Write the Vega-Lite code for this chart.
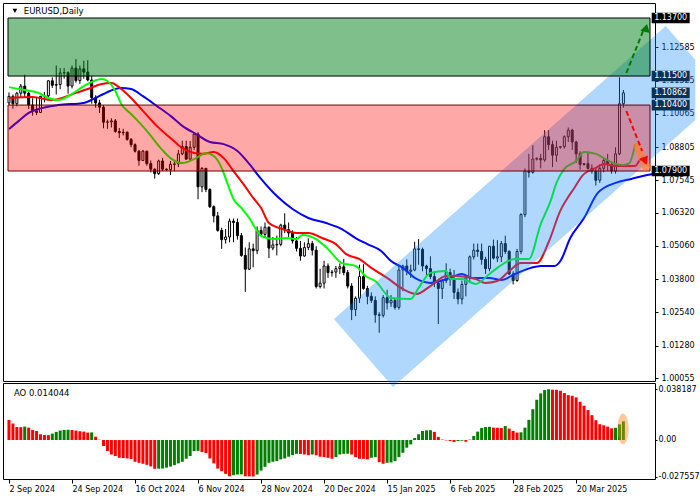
{
  "$schema": "https://vega.github.io/schema/vega-lite/v6.json",
  "padding": {"left": 2, "top": 2, "right": 0, "bottom": 0},
  "spacing": 2,
  "bounds": "flush",
  "background": "white",
  "config": {
    "view": {"stroke": "black", "strokeWidth": 1},
    "font": "DejaVu Sans",
    "text": {"font": "DejaVu Sans"},
    "axis": {"labelFont": "DejaVu Sans", "labelFontSize": 8, "labelColor": "black", "tickColor": "black", "domain": false, "grid": false, "labelOverlap": false, "labelFlush": false}
  },
  "datasets": {
    "candles": [
      {"i":0,"o":1.1048,"h":1.1088,"l":1.1040,"c":1.1073},{"i":1,"o":1.1073,"h":1.1080,"l":1.1026,"c":1.1045},{"i":2,"o":1.1045,"h":1.1090,"l":1.1035,"c":1.1085},{"i":3,"o":1.1085,"h":1.1120,"l":1.1070,"c":1.1112},{"i":4,"o":1.1112,"h":1.1155,"l":1.1070,"c":1.1085},
      {"i":5,"o":1.1085,"h":1.1090,"l":1.1025,"c":1.1040},{"i":6,"o":1.1040,"h":1.1066,"l":1.1000,"c":1.1018},{"i":7,"o":1.1018,"h":1.1070,"l":1.1002,"c":1.1012},{"i":8,"o":1.1012,"h":1.1075,"l":1.1010,"c":1.1073},{"i":9,"o":1.1073,"h":1.1090,"l":1.1050,"c":1.1075},
      {"i":10,"o":1.1075,"h":1.1135,"l":1.1070,"c":1.1132},{"i":11,"o":1.1132,"h":1.1145,"l":1.1105,"c":1.1115},{"i":12,"o":1.1115,"h":1.1190,"l":1.1080,"c":1.1118},{"i":13,"o":1.1118,"h":1.1180,"l":1.1100,"c":1.1162},{"i":14,"o":1.1162,"h":1.1180,"l":1.1140,"c":1.1163},
      {"i":15,"o":1.1163,"h":1.1168,"l":1.1083,"c":1.1112},{"i":16,"o":1.1112,"h":1.1190,"l":1.1103,"c":1.1180},{"i":17,"o":1.1180,"h":1.1214,"l":1.1125,"c":1.1133},{"i":18,"o":1.1133,"h":1.1190,"l":1.1120,"c":1.1177},{"i":19,"o":1.1177,"h":1.1208,"l":1.1140,"c":1.1165},
      {"i":20,"o":1.1165,"h":1.1210,"l":1.1130,"c":1.1135},{"i":21,"o":1.1135,"h":1.1150,"l":1.1045,"c":1.1068},{"i":22,"o":1.1068,"h":1.1077,"l":1.1030,"c":1.1048},{"i":23,"o":1.1048,"h":1.1060,"l":1.1010,"c":1.1032},{"i":24,"o":1.1032,"h":1.1040,"l":1.0952,"c":1.0975},
      {"i":25,"o":1.0975,"h":1.0985,"l":1.0950,"c":1.0976},{"i":26,"o":1.0976,"h":1.0990,"l":1.0955,"c":1.0980},{"i":27,"o":1.0980,"h":1.0987,"l":1.0935,"c":1.0940},{"i":28,"o":1.0940,"h":1.0953,"l":1.0915,"c":1.0935},{"i":29,"o":1.0935,"h":1.0950,"l":1.0925,"c":1.0937},
      {"i":30,"o":1.0937,"h":1.0940,"l":1.0905,"c":1.0910},{"i":31,"o":1.0910,"h":1.0915,"l":1.0880,"c":1.0890},{"i":32,"o":1.0890,"h":1.0895,"l":1.0860,"c":1.0865},{"i":33,"o":1.0865,"h":1.0870,"l":1.0810,"c":1.0830},{"i":34,"o":1.0830,"h":1.0870,"l":1.0828,"c":1.0865},
      {"i":35,"o":1.0865,"h":1.0867,"l":1.0810,"c":1.0818},{"i":36,"o":1.0818,"h":1.0830,"l":1.0785,"c":1.0797},{"i":37,"o":1.0797,"h":1.0800,"l":1.0761,"c":1.0780},{"i":38,"o":1.0780,"h":1.0833,"l":1.0775,"c":1.0828},{"i":39,"o":1.0828,"h":1.0840,"l":1.0790,"c":1.0797},
      {"i":40,"o":1.0797,"h":1.0800,"l":1.0790,"c":1.0795},{"i":41,"o":1.0795,"h":1.0828,"l":1.0775,"c":1.0815},{"i":42,"o":1.0815,"h":1.0825,"l":1.0790,"c":1.0817},{"i":43,"o":1.0817,"h":1.0870,"l":1.0805,"c":1.0855},{"i":44,"o":1.0855,"h":1.0905,"l":1.0850,"c":1.0883},
      {"i":45,"o":1.0883,"h":1.0905,"l":1.0833,"c":1.0835},{"i":46,"o":1.0835,"h":1.0904,"l":1.0833,"c":1.0880},{"i":47,"o":1.0880,"h":1.0937,"l":1.0870,"c":1.0930},{"i":48,"o":1.0930,"h":1.0937,"l":1.0683,"c":1.0730},{"i":49,"o":1.0730,"h":1.0805,"l":1.0710,"c":1.0800},
      {"i":50,"o":1.0800,"h":1.0802,"l":1.0710,"c":1.0720},{"i":51,"o":1.0720,"h":1.0725,"l":1.0650,"c":1.0655},{"i":52,"o":1.0655,"h":1.0660,"l":1.0595,"c":1.0620},{"i":53,"o":1.0620,"h":1.0635,"l":1.0560,"c":1.0565},{"i":54,"o":1.0565,"h":1.0575,"l":1.0495,"c":1.0530},
      {"i":55,"o":1.0530,"h":1.0570,"l":1.0515,"c":1.0540},{"i":56,"o":1.0540,"h":1.0610,"l":1.0520,"c":1.0600},{"i":57,"o":1.0600,"h":1.0610,"l":1.0520,"c":1.0595},{"i":58,"o":1.0595,"h":1.0610,"l":1.0530,"c":1.0545},{"i":59,"o":1.0545,"h":1.0555,"l":1.0465,"c":1.0470},
      {"i":60,"o":1.0470,"h":1.0500,"l":1.0332,"c":1.0418},{"i":61,"o":1.0418,"h":1.0520,"l":1.0415,"c":1.0495},{"i":62,"o":1.0495,"h":1.0515,"l":1.0425,"c":1.0488},{"i":63,"o":1.0488,"h":1.0580,"l":1.0475,"c":1.0565},{"i":64,"o":1.0565,"h":1.0580,"l":1.0545,"c":1.0550},
      {"i":65,"o":1.0550,"h":1.0595,"l":1.0540,"c":1.0577},{"i":66,"o":1.0577,"h":1.0580,"l":1.0460,"c":1.0498},{"i":67,"o":1.0498,"h":1.0540,"l":1.0490,"c":1.0510},{"i":68,"o":1.0510,"h":1.0545,"l":1.0470,"c":1.0512},{"i":69,"o":1.0512,"h":1.0590,"l":1.0505,"c":1.0585},
      {"i":70,"o":1.0585,"h":1.0630,"l":1.0555,"c":1.0568},{"i":71,"o":1.0568,"h":1.0595,"l":1.0540,"c":1.0555},{"i":72,"o":1.0555,"h":1.0565,"l":1.0515,"c":1.0525},{"i":73,"o":1.0525,"h":1.0540,"l":1.0485,"c":1.0497},{"i":74,"o":1.0497,"h":1.0525,"l":1.0450,"c":1.0468},
      {"i":75,"o":1.0468,"h":1.0520,"l":1.0465,"c":1.0500},{"i":76,"o":1.0500,"h":1.0535,"l":1.0490,"c":1.0515},{"i":77,"o":1.0515,"h":1.0525,"l":1.0470,"c":1.0490},{"i":78,"o":1.0490,"h":1.0505,"l":1.0345,"c":1.0352},{"i":79,"o":1.0352,"h":1.0420,"l":1.0345,"c":1.0365},
      {"i":80,"o":1.0365,"h":1.0450,"l":1.0345,"c":1.0430},{"i":81,"o":1.0430,"h":1.0440,"l":1.0385,"c":1.0405},{"i":82,"o":1.0405,"h":1.0415,"l":1.0390,"c":1.0407},{"i":83,"o":1.0407,"h":1.0430,"l":1.0385,"c":1.0420},{"i":84,"o":1.0420,"h":1.0440,"l":1.0400,"c":1.0427},
      {"i":85,"o":1.0427,"h":1.0457,"l":1.0395,"c":1.0405},{"i":86,"o":1.0405,"h":1.0415,"l":1.0345,"c":1.0354},{"i":87,"o":1.0354,"h":1.0365,"l":1.0225,"c":1.0265},{"i":88,"o":1.0265,"h":1.0315,"l":1.0240,"c":1.0308},{"i":89,"o":1.0308,"h":1.0435,"l":1.0290,"c":1.0390},
      {"i":90,"o":1.0390,"h":1.0437,"l":1.0340,"c":1.0345},{"i":91,"o":1.0345,"h":1.0355,"l":1.0285,"c":1.0315},{"i":92,"o":1.0315,"h":1.0330,"l":1.0290,"c":1.0300},{"i":93,"o":1.0300,"h":1.0315,"l":1.0215,"c":1.0245},{"i":94,"o":1.0245,"h":1.0255,"l":1.0177,"c":1.0243},
      {"i":95,"o":1.0243,"h":1.0320,"l":1.0235,"c":1.0310},{"i":96,"o":1.0310,"h":1.0340,"l":1.0265,"c":1.0290},{"i":97,"o":1.0290,"h":1.0320,"l":1.0275,"c":1.0300},{"i":98,"o":1.0300,"h":1.0305,"l":1.0265,"c":1.0273},{"i":99,"o":1.0273,"h":1.0430,"l":1.0265,"c":1.0415},
      {"i":100,"o":1.0415,"h":1.0435,"l":1.0335,"c":1.0430},{"i":101,"o":1.0430,"h":1.0455,"l":1.0395,"c":1.0410},{"i":102,"o":1.0410,"h":1.0435,"l":1.0385,"c":1.0415},{"i":103,"o":1.0415,"h":1.0522,"l":1.0410,"c":1.0495},{"i":104,"o":1.0495,"h":1.0532,"l":1.0435,"c":1.0493},
      {"i":105,"o":1.0493,"h":1.0500,"l":1.0410,"c":1.0430},{"i":106,"o":1.0430,"h":1.0435,"l":1.0390,"c":1.0420},{"i":107,"o":1.0420,"h":1.0467,"l":1.0380,"c":1.0390},{"i":108,"o":1.0390,"h":1.0410,"l":1.0350,"c":1.0365},{"i":109,"o":1.0365,"h":1.0370,"l":1.0210,"c":1.0345},
      {"i":110,"o":1.0345,"h":1.0380,"l":1.0305,"c":1.0375},{"i":111,"o":1.0375,"h":1.0440,"l":1.0365,"c":1.0405},{"i":112,"o":1.0405,"h":1.0420,"l":1.0355,"c":1.0380},{"i":113,"o":1.0380,"h":1.0415,"l":1.0305,"c":1.0330},{"i":114,"o":1.0330,"h":1.0345,"l":1.0285,"c":1.0305},
      {"i":115,"o":1.0305,"h":1.0375,"l":1.0285,"c":1.0360},{"i":116,"o":1.0360,"h":1.0390,"l":1.0315,"c":1.0385},{"i":117,"o":1.0385,"h":1.0470,"l":1.0365,"c":1.0465},{"i":118,"o":1.0465,"h":1.0515,"l":1.0455,"c":1.0490},{"i":119,"o":1.0490,"h":1.0515,"l":1.0465,"c":1.0485},
      {"i":120,"o":1.0485,"h":1.0515,"l":1.0435,"c":1.0455},{"i":121,"o":1.0455,"h":1.0465,"l":1.0400,"c":1.0420},{"i":122,"o":1.0420,"h":1.0505,"l":1.0410,"c":1.0505},{"i":123,"o":1.0505,"h":1.0530,"l":1.0455,"c":1.0460},{"i":124,"o":1.0460,"h":1.0528,"l":1.0445,"c":1.0465},
      {"i":125,"o":1.0465,"h":1.0525,"l":1.0445,"c":1.0515},{"i":126,"o":1.0515,"h":1.0545,"l":1.0475,"c":1.0485},{"i":127,"o":1.0485,"h":1.0490,"l":1.0395,"c":1.0400},{"i":128,"o":1.0400,"h":1.0410,"l":1.0360,"c":1.0375},{"i":129,"o":1.0375,"h":1.0495,"l":1.0370,"c":1.0485},
      {"i":130,"o":1.0485,"h":1.0630,"l":1.0475,"c":1.0625},{"i":131,"o":1.0625,"h":1.0800,"l":1.0615,"c":1.0790},{"i":132,"o":1.0790,"h":1.0855,"l":1.0765,"c":1.0785},{"i":133,"o":1.0785,"h":1.0888,"l":1.0780,"c":1.0835},{"i":134,"o":1.0835,"h":1.0842,"l":1.0830,"c":1.0838},
      {"i":135,"o":1.0838,"h":1.0855,"l":1.0800,"c":1.0832},{"i":136,"o":1.0832,"h":1.0945,"l":1.0825,"c":1.0920},{"i":137,"o":1.0920,"h":1.0945,"l":1.0870,"c":1.0890},{"i":138,"o":1.0890,"h":1.0905,"l":1.0805,"c":1.0850},{"i":139,"o":1.0850,"h":1.0905,"l":1.0825,"c":1.0880},
      {"i":140,"o":1.0880,"h":1.0885,"l":1.0875,"c":1.0882},{"i":141,"o":1.0882,"h":1.0925,"l":1.0875,"c":1.0920},{"i":142,"o":1.0920,"h":1.0955,"l":1.0900,"c":1.0945},{"i":143,"o":1.0945,"h":1.0950,"l":1.0870,"c":1.0900},{"i":144,"o":1.0900,"h":1.0905,"l":1.0820,"c":1.0855},
      {"i":145,"o":1.0855,"h":1.0865,"l":1.0795,"c":1.0815},{"i":146,"o":1.0815,"h":1.0820,"l":1.0810,"c":1.0818},{"i":147,"o":1.0818,"h":1.0860,"l":1.0795,"c":1.0800},{"i":148,"o":1.0800,"h":1.0815,"l":1.0780,"c":1.0790},{"i":149,"o":1.0790,"h":1.0800,"l":1.0735,"c":1.0755},
      {"i":150,"o":1.0755,"h":1.0815,"l":1.0745,"c":1.0800},{"i":151,"o":1.0800,"h":1.0840,"l":1.0785,"c":1.0830},{"i":152,"o":1.0830,"h":1.0855,"l":1.0790,"c":1.0815},{"i":153,"o":1.0815,"h":1.0820,"l":1.0780,"c":1.0790},{"i":154,"o":1.0790,"h":1.0880,"l":1.0780,"c":1.0855},
      {"i":155,"o":1.0855,"h":1.1145,"l":1.0850,"c":1.1045},{"i":156,"o":1.1045,"h":1.1097,"l":1.1030,"c":1.10862}
    ],
    "lips": [
      {"i":0,"v":1.1108},{"i":4,"v":1.1097},{"i":7.5,"v":1.1086},{"i":10,"v":1.1067},{"i":12.5,"v":1.1059},{"i":16,"v":1.1082},{"i":19,"v":1.1112},{"i":23.5,"v":1.1139},{"i":25,"v":1.1131},{"i":27,"v":1.1093},{"i":28.5,"v":1.1044},{"i":31,"v":1.1006},{"i":35,"v":1.0942},{"i":38.5,"v":1.0877},{"i":41,"v":1.0839},{"i":44,"v":1.0820},{"i":47.5,"v":1.0839},{"i":50,"v":1.0858},{"i":52,"v":1.0847},{"i":54,"v":1.0802},{"i":55.5,"v":1.0741},{"i":57,"v":1.0684},{"i":59,"v":1.0650},{"i":61,"v":1.0612},{"i":63,"v":1.0563},{"i":64,"v":1.0544},{"i":67,"v":1.0532},{"i":70.5,"v":1.0536},{"i":73,"v":1.0532},{"i":74.5,"v":1.0548},{"i":78,"v":1.0532},{"i":81,"v":1.0494},{"i":84.5,"v":1.0441},{"i":88,"v":1.0430},{"i":90.5,"v":1.0392},{"i":93,"v":1.0373},{"i":97,"v":1.0309},{"i":102,"v":1.0305},{"i":104,"v":1.0347},{"i":107,"v":1.0404},{"i":111,"v":1.0411},{"i":112,"v":1.0381},{"i":115,"v":1.0381},{"i":118.5,"v":1.0362},{"i":122,"v":1.0400},{"i":124,"v":1.0423},{"i":128.5,"v":1.0457},{"i":132,"v":1.0457},{"i":135,"v":1.0589},{"i":137.5,"v":1.0676},{"i":139,"v":1.0745},{"i":141,"v":1.0798},{"i":144,"v":1.0828},{"i":146,"v":1.0862},{"i":149,"v":1.0855},{"i":151,"v":1.0839},{"i":154,"v":1.0817},{"i":156,"v":1.0813},{"i":157.5,"v":1.0820},{"i":159,"v":1.0892}
    ],
    "teeth": [
      {"i":0,"v":1.1067},{"i":6,"v":1.1071},{"i":11,"v":1.1059},{"i":13.5,"v":1.1067},{"i":17,"v":1.1086},{"i":20,"v":1.1101},{"i":23.5,"v":1.1120},{"i":26,"v":1.1124},{"i":28.5,"v":1.1101},{"i":31,"v":1.1067},{"i":34,"v":1.1018},{"i":37.5,"v":1.0961},{"i":41,"v":1.0915},{"i":44,"v":1.0877},{"i":47,"v":1.0858},{"i":49,"v":1.0855},{"i":52,"v":1.0862},{"i":54.5,"v":1.0839},{"i":57,"v":1.0790},{"i":59.5,"v":1.0741},{"i":62,"v":1.0688},{"i":64,"v":1.0650},{"i":66,"v":1.0593},{"i":69.5,"v":1.0570},{"i":73,"v":1.0555},{"i":76,"v":1.0555},{"i":79.5,"v":1.0536},{"i":83,"v":1.0513},{"i":85.5,"v":1.0476},{"i":89,"v":1.0456},{"i":92,"v":1.0423},{"i":96,"v":1.0385},{"i":100,"v":1.0343},{"i":103.5,"v":1.0324},{"i":107,"v":1.0354},{"i":111,"v":1.0392},{"i":113.5,"v":1.0392},{"i":118.5,"v":1.0381},{"i":121,"v":1.0366},{"i":124,"v":1.0373},{"i":127,"v":1.0411},{"i":130,"v":1.0441},{"i":134,"v":1.0441},{"i":137,"v":1.0520},{"i":140,"v":1.0640},{"i":141.5,"v":1.0680},{"i":143.5,"v":1.0725},{"i":145.5,"v":1.0771},{"i":149,"v":1.0802},{"i":151,"v":1.0817},{"i":154,"v":1.0809},{"i":159,"v":1.0809},{"i":160,"v":1.0828},{"i":161,"v":1.0843}
    ],
    "jaw": [
      {"i":0,"v":1.0949},{"i":2.5,"v":1.0980},{"i":5,"v":1.1010},{"i":7.5,"v":1.1025},{"i":12.5,"v":1.1040},{"i":19,"v":1.1048},{"i":22,"v":1.1067},{"i":24,"v":1.1082},{"i":27,"v":1.1101},{"i":28.5,"v":1.1105},{"i":31,"v":1.1101},{"i":34,"v":1.1074},{"i":37.5,"v":1.1037},{"i":41,"v":1.0999},{"i":44,"v":1.0961},{"i":47.5,"v":1.0930},{"i":51,"v":1.0900},{"i":54.5,"v":1.0892},{"i":58,"v":1.0866},{"i":61,"v":1.0817},{"i":64,"v":1.0760},{"i":68,"v":1.0695},{"i":72,"v":1.0646},{"i":76,"v":1.0612},{"i":80.5,"v":1.0593},{"i":84.5,"v":1.0570},{"i":88,"v":1.0536},{"i":91,"v":1.0513},{"i":94.5,"v":1.0487},{"i":97,"v":1.0449},{"i":100,"v":1.0423},{"i":103.5,"v":1.0381},{"i":107,"v":1.0366},{"i":112,"v":1.0385},{"i":115,"v":1.0400},{"i":117.5,"v":1.0385},{"i":122,"v":1.0385},{"i":125,"v":1.0377},{"i":128.5,"v":1.0400},{"i":132.5,"v":1.0423},{"i":135,"v":1.0430},{"i":138.5,"v":1.0430},{"i":140,"v":1.0449},{"i":142.5,"v":1.0536},{"i":146,"v":1.0612},{"i":149.5,"v":1.0707},{"i":154,"v":1.0745},{"i":158,"v":1.0760},{"i":162,"v":1.0775},{"i":164,"v":1.0780}
    ],
    "ao": [
      {"i":0,"ao":0.0151,"dir":"down"},{"i":1,"ao":0.0124,"dir":"down"},{"i":2,"ao":0.0098,"dir":"down"},{"i":3,"ao":0.0097,"dir":"down"},{"i":4,"ao":0.0101,"dir":"up"},{"i":5,"ao":0.0093,"dir":"down"},{"i":6,"ao":0.0076,"dir":"down"},{"i":7,"ao":0.0068,"dir":"down"},{"i":8,"ao":0.0043,"dir":"down"},{"i":9,"ao":0.0038,"dir":"down"},
      {"i":10,"ao":0.0037,"dir":"down"},{"i":11,"ao":0.0048,"dir":"up"},{"i":12,"ao":0.0061,"dir":"up"},{"i":13,"ao":0.0071,"dir":"up"},{"i":14,"ao":0.0076,"dir":"up"},{"i":15,"ao":0.0077,"dir":"up"},{"i":16,"ao":0.0075,"dir":"down"},{"i":17,"ao":0.0071,"dir":"down"},{"i":18,"ao":0.0066,"dir":"down"},{"i":19,"ao":0.0063,"dir":"down"},
      {"i":20,"ao":0.0056,"dir":"down"},{"i":21,"ao":0.0057,"dir":"up"},{"i":22,"ao":0.0025,"dir":"down"},{"i":23,"ao":0.0002,"dir":"down"},{"i":24,"ao":-0.0045,"dir":"down"},{"i":25,"ao":-0.0083,"dir":"down"},{"i":26,"ao":-0.0109,"dir":"down"},{"i":27,"ao":-0.0121,"dir":"down"},{"i":28,"ao":-0.0134,"dir":"down"},{"i":29,"ao":-0.0136,"dir":"down"},
      {"i":30,"ao":-0.0139,"dir":"down"},{"i":31,"ao":-0.0144,"dir":"down"},{"i":32,"ao":-0.0164,"dir":"down"},{"i":33,"ao":-0.0172,"dir":"down"},{"i":34,"ao":-0.0179,"dir":"down"},{"i":35,"ao":-0.0187,"dir":"down"},{"i":36,"ao":-0.0199,"dir":"down"},{"i":37,"ao":-0.0217,"dir":"down"},{"i":38,"ao":-0.0216,"dir":"up"},{"i":39,"ao":-0.0215,"dir":"up"},
      {"i":40,"ao":-0.0208,"dir":"up"},{"i":41,"ao":-0.0200,"dir":"up"},{"i":42,"ao":-0.0189,"dir":"up"},{"i":43,"ao":-0.0176,"dir":"up"},{"i":44,"ao":-0.0164,"dir":"up"},{"i":45,"ao":-0.0141,"dir":"up"},{"i":46,"ao":-0.0121,"dir":"up"},{"i":47,"ao":-0.0083,"dir":"up"},{"i":48,"ao":-0.0082,"dir":"up"},{"i":49,"ao":-0.0091,"dir":"down"},
      {"i":50,"ao":-0.0098,"dir":"down"},{"i":51,"ao":-0.0139,"dir":"down"},{"i":52,"ao":-0.0176,"dir":"down"},{"i":53,"ao":-0.0215,"dir":"down"},{"i":54,"ao":-0.0235,"dir":"down"},{"i":55,"ao":-0.0255,"dir":"down"},{"i":56,"ao":-0.0273,"dir":"down"},{"i":57,"ao":-0.0265,"dir":"up"},{"i":58,"ao":-0.0260,"dir":"up"},{"i":59,"ao":-0.0259,"dir":"up"},
      {"i":60,"ao":-0.0273,"dir":"down"},{"i":61,"ao":-0.0274,"dir":"down"},{"i":62,"ao":-0.0275,"dir":"down"},{"i":63,"ao":-0.0260,"dir":"up"},{"i":64,"ao":-0.0230,"dir":"up"},{"i":65,"ao":-0.0202,"dir":"up"},{"i":66,"ao":-0.0172,"dir":"up"},{"i":67,"ao":-0.0164,"dir":"up"},{"i":68,"ao":-0.0159,"dir":"up"},{"i":69,"ao":-0.0146,"dir":"up"},
      {"i":70,"ao":-0.0139,"dir":"up"},{"i":71,"ao":-0.0126,"dir":"up"},{"i":72,"ao":-0.0114,"dir":"up"},{"i":73,"ao":-0.0104,"dir":"up"},{"i":74,"ao":-0.0105,"dir":"down"},{"i":75,"ao":-0.0109,"dir":"down"},{"i":76,"ao":-0.0114,"dir":"down"},{"i":77,"ao":-0.0109,"dir":"up"},{"i":78,"ao":-0.0115,"dir":"down"},{"i":79,"ao":-0.0126,"dir":"down"},
      {"i":80,"ao":-0.0129,"dir":"down"},{"i":81,"ao":-0.0134,"dir":"down"},{"i":82,"ao":-0.0141,"dir":"down"},{"i":83,"ao":-0.0129,"dir":"up"},{"i":84,"ao":-0.0109,"dir":"up"},{"i":85,"ao":-0.0104,"dir":"up"},{"i":86,"ao":-0.0103,"dir":"up"},{"i":87,"ao":-0.0109,"dir":"down"},{"i":88,"ao":-0.0129,"dir":"down"},{"i":89,"ao":-0.0141,"dir":"down"},
      {"i":90,"ao":-0.0142,"dir":"down"},{"i":91,"ao":-0.0146,"dir":"down"},{"i":92,"ao":-0.0134,"dir":"up"},{"i":93,"ao":-0.0129,"dir":"up"},{"i":94,"ao":-0.0167,"dir":"down"},{"i":95,"ao":-0.0179,"dir":"down"},{"i":96,"ao":-0.0172,"dir":"up"},{"i":97,"ao":-0.0169,"dir":"up"},{"i":98,"ao":-0.0159,"dir":"up"},{"i":99,"ao":-0.0129,"dir":"up"},
      {"i":100,"ao":-0.0096,"dir":"up"},{"i":101,"ao":-0.0058,"dir":"up"},{"i":102,"ao":-0.0033,"dir":"up"},{"i":103,"ao":0.0015,"dir":"up"},{"i":104,"ao":0.0043,"dir":"up"},{"i":105,"ao":0.0068,"dir":"up"},{"i":106,"ao":0.0073,"dir":"up"},{"i":107,"ao":0.0074,"dir":"up"},{"i":108,"ao":0.0061,"dir":"down"},{"i":109,"ao":0.0023,"dir":"down"},
      {"i":110,"ao":0.0003,"dir":"down"},{"i":111,"ao":-0.0003,"dir":"down"},{"i":112,"ao":-0.0008,"dir":"down"},{"i":113,"ao":-0.0015,"dir":"down"},{"i":114,"ao":-0.0008,"dir":"up"},{"i":115,"ao":-0.0005,"dir":"up"},{"i":116,"ao":-0.0013,"dir":"down"},{"i":117,"ao":0.0003,"dir":"up"},{"i":118,"ao":0.0030,"dir":"up"},{"i":119,"ao":0.0063,"dir":"up"},
      {"i":120,"ao":0.0091,"dir":"up"},{"i":121,"ao":0.0098,"dir":"up"},{"i":122,"ao":0.0099,"dir":"up"},{"i":123,"ao":0.0093,"dir":"down"},{"i":124,"ao":0.0092,"dir":"down"},{"i":125,"ao":0.0090,"dir":"down"},{"i":126,"ao":0.0105,"dir":"up"},{"i":127,"ao":0.0086,"dir":"down"},{"i":128,"ao":0.0068,"dir":"down"},{"i":129,"ao":0.0056,"dir":"down"},
      {"i":130,"ao":0.0058,"dir":"up"},{"i":131,"ao":0.0093,"dir":"up"},{"i":132,"ao":0.0152,"dir":"up"},{"i":133,"ao":0.0232,"dir":"up"},{"i":134,"ao":0.0303,"dir":"up"},{"i":135,"ao":0.0351,"dir":"up"},{"i":136,"ao":0.0376,"dir":"up"},{"i":137,"ao":0.0382,"dir":"up"},{"i":138,"ao":0.0379,"dir":"down"},{"i":139,"ao":0.0378,"dir":"down"},
      {"i":140,"ao":0.0371,"dir":"down"},{"i":141,"ao":0.0354,"dir":"down"},{"i":142,"ao":0.0338,"dir":"down"},{"i":143,"ao":0.0333,"dir":"down"},{"i":144,"ao":0.0321,"dir":"down"},{"i":145,"ao":0.0288,"dir":"down"},{"i":146,"ao":0.0258,"dir":"down"},{"i":147,"ao":0.0225,"dir":"down"},{"i":148,"ao":0.0187,"dir":"down"},{"i":149,"ao":0.0149,"dir":"down"},
      {"i":150,"ao":0.0119,"dir":"down"},{"i":151,"ao":0.0111,"dir":"down"},{"i":152,"ao":0.0101,"dir":"down"},{"i":153,"ao":0.0088,"dir":"down"},{"i":154,"ao":0.0092,"dir":"up"},{"i":155,"ao":0.0118,"dir":"up"},{"i":156,"ao":0.014044,"dir":"up"}
    ],
    "channel": [
      {"i":82.5,"top":1.0229,"bot":1.0229},{"i":97.5,"top":1.04267,"bot":0.99715},{"i":166.75,"top":1.13396,"bot":1.08843},{"i":174.25,"top":1.12108,"bot":1.09831}
    ],
    "wedge": [
      {"i":158.25,"top":1.08924,"bot":1.08924},{"i":160,"top":1.0900,"bot":1.08306},{"i":161.25,"top":1.08606,"bot":1.07863},{"i":163,"top":1.08053,"bot":1.08053}
    ],
    "zones": [
      {"z":"buy","lo":1.115,"hi":1.137},{"z":"sell","lo":1.079,"hi":1.104}
    ],
    "garrow": [{"i":156.75,"p":1.11615},{"i":161.0,"p":1.13207}],
    "rarrow": [{"i":156.75,"p":1.10175},{"i":160.75,"p":1.08659}],
    "boxes": [
      {"v":1.137,"t":"1.13700"},{"v":1.115,"t":"1.11500"},{"v":1.10862,"t":"1.10862"},{"v":1.104,"t":"1.10400"},{"v":1.079,"t":"1.07900"}
    ]
  },
  "vconcat": [
    {
      "width": 652,
      "height": 378,
      "layer": [
        {
          "data": {"name": "candles"},
          "mark": {"type": "rule", "color": "black", "strokeWidth": 1},
          "encoding": {
            "x": {"field": "i", "type": "quantitative", "scale": {"domain": [-0.25, 162.75], "nice": false, "zero": false}, "axis": null},
            "y": {"field": "l", "type": "quantitative", "scale": {"domain": [0.99942, 1.14268], "nice": false, "zero": false},
                  "axis": {"orient": "right", "values": [1.12585, 1.11325, 1.10065, 1.08805, 1.07545, 1.0632, 1.0506, 1.038, 1.0254, 1.0128, 1.00055], "tickCount": 30, "format": ".5f", "tickSize": 3, "labelPadding": 3, "labelOverlap": false, "labelFlush": false, "title": null}},
            "y2": {"field": "h"}
          }
        },
        {
          "data": {"name": "candles"},
          "mark": {"type": "bar", "width": 2, "stroke": "black", "strokeWidth": 1},
          "encoding": {
            "x": {"field": "i", "type": "quantitative", "axis": null},
            "y": {"field": "o", "type": "quantitative", "axis": {"title": null, "labelOverlap": false}},
            "y2": {"field": "c"},
            "fill": {"condition": {"test": "datum.c >= datum.o", "value": "white"}, "value": "black"}
          }
        },
        {
          "data": {"name": "jaw"},
          "mark": {"type": "line", "color": "#0000ff", "strokeWidth": 2, "interpolate": "monotone", "clip": true},
          "encoding": {"x": {"field": "i", "type": "quantitative", "axis": null}, "y": {"field": "v", "type": "quantitative", "axis": {"title": null, "labelOverlap": false}}}
        },
        {
          "data": {"name": "teeth"},
          "mark": {"type": "line", "color": "#ff0000", "strokeWidth": 2, "interpolate": "monotone", "clip": true},
          "encoding": {"x": {"field": "i", "type": "quantitative", "axis": null}, "y": {"field": "v", "type": "quantitative", "axis": {"title": null, "labelOverlap": false}}}
        },
        {
          "data": {"name": "lips"},
          "mark": {"type": "line", "color": "#00ff00", "strokeWidth": 2, "interpolate": "monotone", "clip": true},
          "encoding": {"x": {"field": "i", "type": "quantitative", "axis": null}, "y": {"field": "v", "type": "quantitative", "axis": {"title": null, "labelOverlap": false}}}
        },
        {
          "data": {"name": "boxes"},
          "mark": {"type": "point", "shape": "M-1,-0.28L1,-0.28L1,0.28L-1,0.28Z", "size": 1444, "filled": true, "color": "black", "opacity": 1, "strokeWidth": 0, "clip": false},
          "encoding": {
            "x": {"datum": 168, "type": "quantitative", "axis": null},
            "y": {"field": "v", "type": "quantitative", "axis": {"title": null, "labelOverlap": false}}
          }
        },
        {
          "data": {"name": "channel"},
          "mark": {"type": "area", "color": "#1e90ff", "opacity": 0.35, "clip": false},
          "encoding": {
            "x": {"field": "i", "type": "quantitative", "axis": null},
            "y": {"field": "top", "type": "quantitative", "axis": {"title": null, "labelOverlap": false}},
            "y2": {"field": "bot"}
          }
        },
        {
          "data": {"name": "zones"},
          "mark": {"type": "rect", "strokeWidth": 1},
          "encoding": {
            "x": {"datum": -0.25, "type": "quantitative", "axis": null},
            "x2": {"datum": 162.75},
            "y": {"field": "lo", "type": "quantitative", "axis": {"title": null, "labelOverlap": false}},
            "y2": {"field": "hi"},
            "fill": {"condition": {"test": "datum.z == 'buy'", "value": "#00801a"}, "value": "#ff0000"},
            "fillOpacity": {"condition": {"test": "datum.z == 'buy'", "value": 0.5}, "value": 0.34},
            "stroke": {"condition": {"test": "datum.z == 'buy'", "value": "#000000"}, "value": "#6e0000"}
          }
        },
        {
          "data": {"name": "boxes"},
          "mark": {"type": "text", "color": "white", "fontSize": 8, "align": "center", "baseline": "middle", "clip": false},
          "encoding": {
            "x": {"datum": 168, "type": "quantitative", "axis": null},
            "y": {"field": "v", "type": "quantitative", "axis": {"title": null, "labelOverlap": false}},
            "text": {"field": "t"}
          }
        },
        {
          "data": {"name": "wedge"},
          "mark": {"type": "area", "color": "#ff7f27", "opacity": 0.65, "clip": false},
          "encoding": {
            "x": {"field": "i", "type": "quantitative", "axis": null},
            "y": {"field": "top", "type": "quantitative", "axis": {"title": null, "labelOverlap": false}},
            "y2": {"field": "bot"}
          }
        },
        {
          "data": {"name": "garrow"},
          "mark": {"type": "line", "color": "#007a00", "strokeWidth": 2, "strokeDash": [5, 3]},
          "encoding": {"x": {"field": "i", "type": "quantitative", "axis": null}, "y": {"field": "p", "type": "quantitative", "axis": {"title": null, "labelOverlap": false}}}
        },
        {
          "data": {"name": "rarrow"},
          "mark": {"type": "line", "color": "#ff0000", "strokeWidth": 2, "strokeDash": [5, 3]},
          "encoding": {"x": {"field": "i", "type": "quantitative", "axis": null}, "y": {"field": "p", "type": "quantitative", "axis": {"title": null, "labelOverlap": false}}}
        },
        {
          "data": {"values": [{"p": 1.13321}]},
          "mark": {"type": "point", "shape": "triangle-up", "angle": 14, "size": 90, "filled": true, "color": "#007a00", "opacity": 1, "clip": false},
          "encoding": {
            "x": {"datum": 161.75, "type": "quantitative", "axis": null},
            "y": {"field": "p", "type": "quantitative", "axis": {"title": null, "labelOverlap": false}}
          }
        },
        {
          "data": {"values": [{"p": 1.0828}]},
          "mark": {"type": "point", "shape": "triangle-down", "angle": -22, "size": 90, "filled": true, "color": "#ff0000", "opacity": 1, "clip": false},
          "encoding": {
            "x": {"datum": 161.5, "type": "quantitative", "axis": null},
            "y": {"field": "p", "type": "quantitative", "axis": {"title": null, "labelOverlap": false}}
          }
        },
        {
          "data": {"values": [{"p": 1.1397}]},
          "mark": {"type": "point", "shape": "triangle-down", "size": 22, "filled": true, "color": "black", "opacity": 1},
          "encoding": {
            "x": {"datum": 1.5, "type": "quantitative", "axis": null},
            "y": {"field": "p", "type": "quantitative", "axis": {"title": null, "labelOverlap": false}}
          }
        },
        {
          "data": {"values": [{"p": 1.1397, "t": "EURUSD,Daily"}]},
          "mark": {"type": "text", "color": "black", "fontSize": 8.5, "align": "left", "baseline": "middle"},
          "encoding": {
            "x": {"datum": 3.75, "type": "quantitative", "axis": null},
            "y": {"field": "p", "type": "quantitative", "axis": {"title": null, "labelOverlap": false}},
            "text": {"field": "t"}
          }
        }
      ]
    },
    {
      "width": 652,
      "height": 96,
      "layer": [
        {
          "data": {"name": "ao"},
          "mark": {"type": "bar", "width": 3},
          "encoding": {
            "x": {"field": "i", "type": "quantitative", "scale": {"domain": [-0.25, 162.75], "nice": false, "zero": false},
                  "axis": {"values": [0, 16, 32, 48, 64, 80, 96, 112, 128, 144], "tickCount": 30, "labelExpr": "['2 Sep 2024','24 Sep 2024','16 Oct 2024','6 Nov 2024','28 Nov 2024','20 Dec 2024','15 Jan 2025','6 Feb 2025','28 Feb 2025','20 Mar 2025'][round(datum.value/16)]", "labelAlign": "left", "labelBaseline": "top", "tickSize": 4, "labelPadding": 2, "labelOverlap": false, "labelFlush": false, "title": null}},
            "y": {"field": "ao", "type": "quantitative", "scale": {"domain": [-0.02937, 0.04292], "nice": false, "zero": false},
                  "axis": {"orient": "right", "values": [0.038187, 0, -0.027557], "tickCount": 10, "labelExpr": "datum.value > 0.03 ? '0.038187' : (datum.value < -0.02 ? '-0.027557' : '0.00')", "tickSize": 2, "labelPadding": 1, "labelOverlap": false, "labelFlush": false, "title": null}},
            "y2": {"datum": 0},
            "color": {"field": "dir", "type": "nominal", "scale": {"domain": ["up", "down"], "range": ["#008000", "#ff0000"]}, "legend": null}
          }
        },
        {
          "data": {"values": [{"a": 0.0083}]},
          "mark": {"type": "point", "shape": "M0,-1A0.34,1 0 1,1 0,1A0.34,1 0 1,1 0,-1Z", "size": 900, "filled": true, "color": "#ff8c1a", "opacity": 0.45, "stroke": "#f08020", "strokeWidth": 1, "strokeOpacity": 0.8},
          "encoding": {
            "x": {"datum": 155.9, "type": "quantitative"},
            "y": {"field": "a", "type": "quantitative"}
          }
        },
        {
          "data": {"values": [{"a": 0.0354, "t": "AO 0.014044"}]},
          "mark": {"type": "text", "color": "black", "fontSize": 8.5, "align": "left", "baseline": "middle"},
          "encoding": {
            "x": {"datum": 1.25, "type": "quantitative"},
            "y": {"field": "a", "type": "quantitative"},
            "text": {"field": "t"}
          }
        }
      ]
    }
  ]
}
